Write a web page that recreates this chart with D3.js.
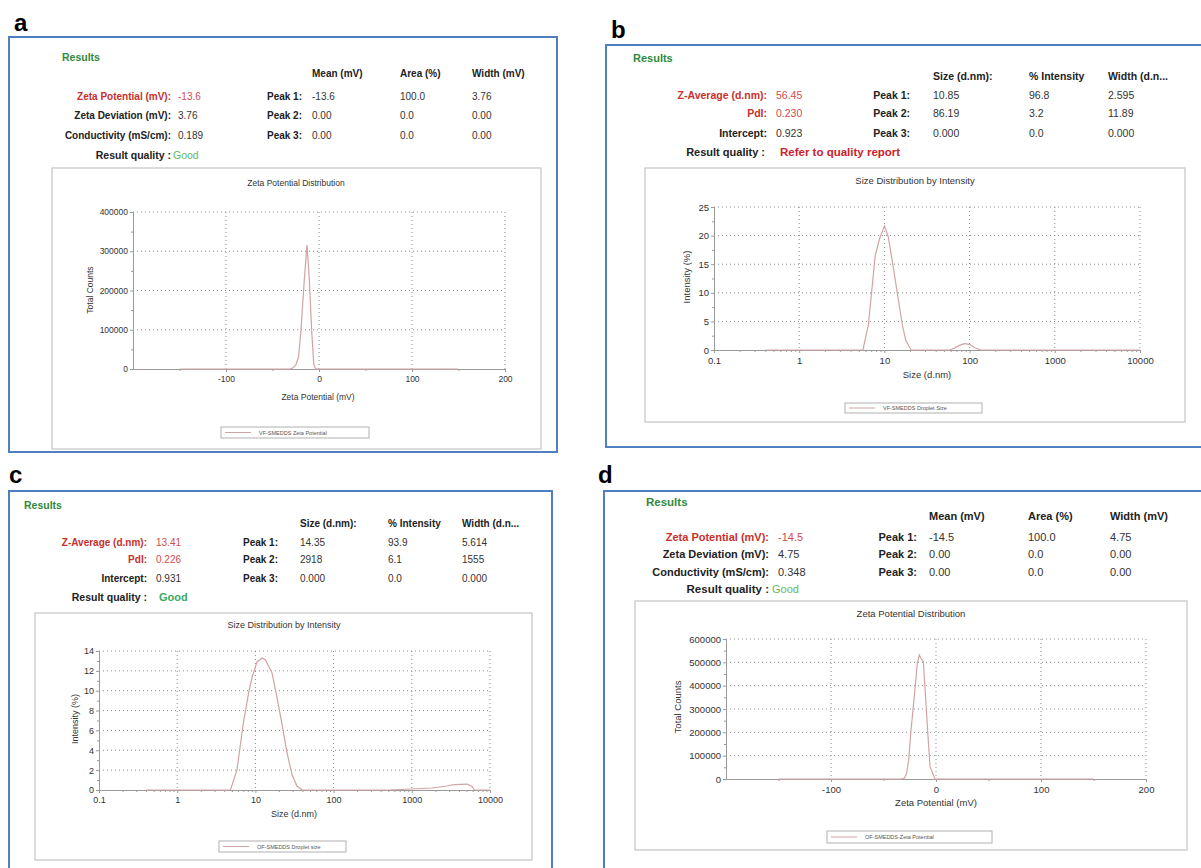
<!DOCTYPE html>
<html>
<head>
<meta charset="utf-8">
<script src="https://cdn.jsdelivr.net/npm/d3@7"></script>
<style>
  body { margin: 0; background: #fff; }
  svg { display: block; font-family: "Liberation Sans", Arial, Helvetica, sans-serif; }
</style>
</head>
<body>
<svg id="fig" width="1201" height="868"></svg>
<script>
// ---------- values ----------

// a: VF-SMEDDS zeta potential distribution
const zetaVF_mv     = [-150, -31, -28, -25, -22, -19.4, -15.8, -12.9, -10.4, -7.9, -5.7, -4.3, -3, 150];
const zetaVF_counts = [0, 0, 3000, 10000, 30000, 99000, 227000, 316000, 227000, 99000, 14500, 3000, 0, 0];

// b: VF-SMEDDS droplet size by intensity
const sizeVF_nm  = [0.4, 5.6, 6.5, 7.8, 8.8, 10.0, 11.1, 12.8, 14.6, 16.2, 17.8, 20.5, 58, 66, 76, 87, 100, 115, 135, 10000];
const sizeVF_pct = [0, 0, 4.5, 16.5, 19.5, 21.7, 19.8, 14.2, 8.7, 4.5, 1.7, 0, 0, 0.3, 0.8, 1.1, 1.0, 0.4, 0, 0];

// c: OF-SMEDDS droplet size by intensity
const sizeOF_nm  = [0.4, 4.8, 5.8, 7.0, 8.2, 9.1, 10.5, 12.2, 13.5, 14.5, 16.3, 18.9, 21.8, 25.3, 29.5, 34, 39.6, 500, 1000, 1800, 2800, 3500, 5100, 5900, 6300, 10000];
const sizeOF_pct = [0, 0, 2, 6.7, 9.8, 11.4, 12.9, 13.3, 13.1, 12.6, 11.8, 9.3, 6.7, 3.8, 1.5, 0.4, 0, 0, 0.1, 0.2, 0.4, 0.55, 0.6, 0.35, 0, 0];

// d: OF-SMEDDS zeta potential distribution
const zetaOF_mv     = [-150, -33, -30, -28, -26, -24, -21.6, -19.5, -17.8, -15.9, -14.5, -12.1, -10, -8, -5.7, -2.5, -1, 150];
const zetaOF_counts = [0, 0, 4000, 25000, 81000, 200000, 310000, 410000, 497000, 531000, 518000, 505000, 357000, 210000, 53000, 17000, 0, 0];

// axis ticks
const zetaTicksX   = [-100, 0, 100, 200];
const zetaMinorX   = [-150, -50, 50, 150];
const sizeTicksX   = [0.1, 1, 10, 100, 1000, 10000];
const countTicksA  = [0, 100000, 200000, 300000, 400000];
const countMinorA  = [50000, 150000, 250000, 350000];
const countTicksD  = [0, 100000, 200000, 300000, 400000, 500000, 600000];
const countMinorD  = [50000, 150000, 250000, 350000, 450000, 550000];
const pctTicksB    = [0, 5, 10, 15, 20, 25];
const pctMinorB    = [2.5, 7.5, 12.5, 17.5, 22.5];
const pctTicksC    = [0, 2, 4, 6, 8, 10, 12, 14];
const pctMinorC    = [1, 3, 5, 7, 9, 11, 13];

// result tables
const zetaHeads = ['Mean (mV)', 'Area (%)', 'Width (mV)'];
const sizeHeads = ['Size (d.nm):', '% Intensity', 'Width (d.n...'];
const peakNames = ['Peak 1:', 'Peak 2:', 'Peak 3:'];
const zetaNames = ['Zeta Potential (mV):', 'Zeta Deviation (mV):', 'Conductivity (mS/cm):'];
const sizeNames = ['Z-Average (d.nm):', 'PdI:', 'Intercept:'];

const summaryA = ['-13.6', '3.76', '0.189'];
const peaksA   = [['-13.6', '100.0', '3.76'], ['0.00', '0.0', '0.00'], ['0.00', '0.0', '0.00']];
const summaryB = ['56.45', '0.230', '0.923'];
const peaksB   = [['10.85', '96.8', '2.595'], ['86.19', '3.2', '11.89'], ['0.000', '0.0', '0.000']];
const summaryC = ['13.41', '0.226', '0.931'];
const peaksC   = [['14.35', '93.9', '5.614'], ['2918', '6.1', '1555'], ['0.000', '0.0', '0.000']];
const summaryD = ['-14.5', '4.75', '0.348'];
const peaksD   = [['-14.5', '100.0', '4.75'], ['0.00', '0.0', '0.00'], ['0.00', '0.0', '0.00']];

const zip = (xs, ys) => xs.map((x, i) => [x, ys[i]]);

const RED = '#c9302c', RED_VAL = '#d24a50', DARK = '#222', GREY = '#333';
const CURVE = '#d2a3a3', AXIS = '#9a9a9a', GRID = '#8c8c8c';

class ReportPanel {
  constructor(_config, _data) {
    this.config = _config;
    this.data = _data;
    this.initVis();
  }

  initVis() {
    let vis = this;
    const c = vis.config;
    vis.g = d3.select('#fig').append('g');

    // panel letter
    vis.g.append('text')
        .attr('x', c.letterXY[0]).attr('y', c.letterXY[1])
        .style('font-size', '24px').style('font-weight', 'bold')
        .text(c.letter);

    // blue outer frame
    vis.g.append('rect')
        .attr('x', c.frame[0]).attr('y', c.frame[1])
        .attr('width', c.frame[2]).attr('height', c.frame[3])
        .attr('fill', 'none').attr('stroke', '#4f7fc0').attr('stroke-width', 2);

    vis.drawTable();
    vis.drawChart();
  }

  drawTable() {
    let vis = this;
    const c = vis.config, d = vis.data;
    const t = vis.g.append('g').style('font-size', c.fontTable + 'px');

    t.append('text')
        .attr('x', c.resultsXY[0]).attr('y', c.resultsXY[1])
        .style('font-size', (c.fontTable + 0.5) + 'px').style('font-weight', 'bold')
        .attr('fill', '#2f8a3c')
        .text('Results');

    t.selectAll('.head').data(d.heads).join('text')
        .attr('class', 'head')
        .attr('x', (h, i) => c.cols[i]).attr('y', c.headY)
        .style('font-weight', 'bold').attr('fill', DARK)
        .text(h => h);

    d.names.forEach((name, i) => {
      const red = i < c.redRows;
      t.append('text')
          .attr('x', c.labelRight).attr('y', c.rowY[i])
          .attr('text-anchor', 'end').style('font-weight', 'bold')
          .attr('fill', red ? RED : DARK)
          .text(name);
      t.append('text')
          .attr('x', c.valueX).attr('y', c.rowY[i])
          .attr('fill', red ? RED_VAL : GREY)
          .text(d.summary[i]);
      t.append('text')
          .attr('x', c.peakRight).attr('y', c.rowY[i])
          .attr('text-anchor', 'end').style('font-weight', 'bold')
          .attr('fill', DARK)
          .text(peakNames[i]);
      t.selectAll('.p' + i).data(d.peaks[i]).join('text')
          .attr('class', 'p' + i)
          .attr('x', (v, j) => c.cols[j]).attr('y', c.rowY[i])
          .attr('fill', GREY)
          .text(v => v);
    });

    t.append('text')
        .attr('x', c.qualRight).attr('y', c.qualY)
        .attr('text-anchor', 'end')
        .style('font-size', (c.fontTable + 0.5) + 'px').style('font-weight', 'bold')
        .attr('fill', DARK)
        .text('Result quality :');
    t.append('text')
        .attr('x', c.qualX).attr('y', c.qualY)
        .style('font-size', c.qualSize + 'px')
        .style('font-weight', c.qualBold ? 'bold' : 'normal')
        .attr('fill', c.qualColor)
        .text(d.quality);
  }

  drawChart() {
    let vis = this;
    const c = vis.config, d = vis.data;
    const [x0, y0, x1, y1] = c.plot;
    const fs = c.fontChart + 'px';

    // grey chart box
    vis.g.append('rect')
        .attr('x', c.box[0]).attr('y', c.box[1])
        .attr('width', c.box[2]).attr('height', c.box[3])
        .attr('fill', 'none').attr('stroke', '#c4c4c4').attr('stroke-width', 1.2);

    vis.g.append('text')
        .attr('x', c.titleXY[0]).attr('y', c.titleXY[1])
        .attr('text-anchor', 'middle').style('font-size', fs).attr('fill', GREY)
        .text(d.title);

    const x = (d.log ? d3.scaleLog() : d3.scaleLinear())
        .domain(d.xDomain).range([x0, x1]);
    const y = d3.scaleLinear().domain(d.yDomain).range([y1, y0]);

    // dotted grid
    const grid = vis.g.append('g')
        .attr('stroke', GRID).attr('stroke-width', 1).attr('stroke-dasharray', '1,3');
    grid.selectAll('.gx').data(d.xTicks.filter(v => x(v) > x0 + 1)).join('line')
        .attr('x1', v => x(v)).attr('x2', v => x(v))
        .attr('y1', y0).attr('y2', y1);
    grid.selectAll('.gy').data(d.yTicks.filter(v => v > 0)).join('line')
        .attr('x1', x0).attr('x2', x1)
        .attr('y1', v => y(v)).attr('y2', v => y(v));

    const minorX = d.log
        ? x.ticks().filter(v => !d.xTicks.includes(v))
        : d.xMinor;

    const styleAxis = sel => {
      sel.select('.domain').attr('stroke', AXIS);
      sel.selectAll('.tick line').attr('stroke', AXIS);
      sel.selectAll('.tick text').style('font-size', fs).attr('fill', GREY)
          .style('font-family', '"Liberation Sans", Arial, sans-serif');
    };

    vis.g.append('g')
        .attr('transform', `translate(0,${y1})`)
        .call(d3.axisBottom(x).tickValues(minorX).tickSize(2).tickSizeOuter(0).tickFormat(''))
        .call(styleAxis);
    vis.g.append('g')
        .attr('transform', `translate(0,${y1})`)
        .call(d3.axisBottom(x).tickValues(d.xTicks).tickSize(3).tickSizeOuter(0)
              .tickPadding(4).tickFormat(v => String(v)))
        .call(styleAxis);

    vis.g.append('g')
        .attr('transform', `translate(${x0},0)`)
        .call(d3.axisLeft(y).tickValues(d.yMinor).tickSize(2).tickSizeOuter(0).tickFormat(''))
        .call(styleAxis);
    vis.g.append('g')
        .attr('transform', `translate(${x0},0)`)
        .call(d3.axisLeft(y).tickValues(d.yTicks).tickSize(3).tickSizeOuter(0)
              .tickPadding(2).tickFormat(v => String(v)))
        .call(styleAxis);

    // distribution curve
    vis.g.append('path')
        .datum(d.points)
        .attr('fill', 'none').attr('stroke', CURVE).attr('stroke-width', 1.2)
        .attr('d', d3.line().x(p => x(p[0])).y(p => y(p[1])));

    // axis titles
    vis.g.append('text')
        .attr('x', c.xLabelXY[0]).attr('y', c.xLabelXY[1])
        .attr('text-anchor', 'middle').style('font-size', fs).attr('fill', GREY)
        .text(d.xLabel);
    vis.g.append('text')
        .attr('transform', `translate(${c.yLabelXY[0]},${c.yLabelXY[1]}) rotate(-90)`)
        .attr('text-anchor', 'middle').style('font-size', fs).attr('fill', GREY)
        .text(d.yLabel);

    // legend
    const [lx, ly, lw, lh] = c.legend;
    vis.g.append('rect')
        .attr('x', lx).attr('y', ly).attr('width', lw).attr('height', lh)
        .attr('fill', '#fff').attr('stroke', '#b0b0b0').attr('stroke-width', 1);
    vis.g.append('line')
        .attr('x1', lx + 4).attr('x2', lx + 30)
        .attr('y1', ly + lh / 2).attr('y2', ly + lh / 2)
        .attr('stroke', CURVE).attr('stroke-width', 1);
    vis.g.append('text')
        .attr('x', lx + 38).attr('y', ly + lh / 2 + 2)
        .style('font-size', '5.5px').attr('fill', '#555')
        .text(d.legend);
  }
}

const zetaTitle = 'Zeta Potential Distribution', sizeTitle = 'Size Distribution by Intensity';

new ReportPanel({
  letter: 'a', letterXY: [14, 31], frame: [9, 37, 548, 415],
  fontTable: 10, fontChart: 8.5, resultsXY: [62, 61],
  headY: 77, rowY: [100, 119, 139], qualY: 159,
  labelRight: 171, valueX: 178, peakRight: 302, cols: [312, 400, 472],
  qualRight: 171, qualX: 173, qualSize: 10.5, qualBold: false, qualColor: '#62b862', redRows: 1,
  box: [52, 168, 489, 281], titleXY: [296, 186], plot: [133, 212, 505, 369],
  xLabelXY: [318, 400], yLabelXY: [93, 290], legend: [221, 427, 148, 11]
}, {
  heads: zetaHeads, names: zetaNames, summary: summaryA, peaks: peaksA, quality: 'Good',
  title: zetaTitle, log: false, xDomain: [-200, 200], xTicks: zetaTicksX, xMinor: zetaMinorX,
  yDomain: [0, 400000], yTicks: countTicksA, yMinor: countMinorA,
  points: zip(zetaVF_mv, zetaVF_counts),
  xLabel: 'Zeta Potential (mV)', yLabel: 'Total Counts', legend: 'VF-SMEDDS Zeta Potential'
});

new ReportPanel({
  letter: 'b', letterXY: [611, 38], frame: [606, 45, 610, 402],
  fontTable: 10.5, fontChart: 9.5, resultsXY: [633, 62],
  headY: 80, rowY: [99, 117, 136.5], qualY: 156,
  labelRight: 767, valueX: 776, peakRight: 910, cols: [933, 1029, 1108],
  qualRight: 765, qualX: 780, qualSize: 11.5, qualBold: true, qualColor: '#d0202a', redRows: 2,
  box: [645, 168, 540, 254], titleXY: [915, 184], plot: [714, 207, 1140, 350],
  xLabelXY: [927, 378], yLabelXY: [690, 277], legend: [845, 403, 137, 10]
}, {
  heads: sizeHeads, names: sizeNames, summary: summaryB, peaks: peaksB, quality: 'Refer to quality report',
  title: sizeTitle, log: true, xDomain: [0.1, 10000], xTicks: sizeTicksX,
  yDomain: [0, 25], yTicks: pctTicksB, yMinor: pctMinorB,
  points: zip(sizeVF_nm, sizeVF_pct),
  xLabel: 'Size (d.nm)', yLabel: 'Intensity (%)', legend: 'VF-SMEDDS Droplet Size'
});

new ReportPanel({
  letter: 'c', letterXY: [9, 483], frame: [9, 491, 543, 400],
  fontTable: 10, fontChart: 9, resultsXY: [24, 509],
  headY: 526.5, rowY: [545.5, 563, 582], qualY: 601,
  labelRight: 147, valueX: 156, peakRight: 278, cols: [300, 388, 462],
  qualRight: 147, qualX: 159, qualSize: 11, qualBold: true, qualColor: '#3daa62', redRows: 2,
  box: [35, 613, 497, 247], titleXY: [284, 628], plot: [99, 651, 490, 790],
  xLabelXY: [294, 817], yLabelXY: [78, 719], legend: [219, 841, 127, 11]
}, {
  heads: sizeHeads, names: sizeNames, summary: summaryC, peaks: peaksC, quality: 'Good',
  title: sizeTitle, log: true, xDomain: [0.1, 10000], xTicks: sizeTicksX,
  yDomain: [0, 14], yTicks: pctTicksC, yMinor: pctMinorC,
  points: zip(sizeOF_nm, sizeOF_pct),
  xLabel: 'Size (d.nm)', yLabel: 'Intensity (%)', legend: 'OF-SMEDDS Droplet size'
});

new ReportPanel({
  letter: 'd', letterXY: [598, 483], frame: [604, 491, 610, 400],
  fontTable: 11, fontChart: 9.5, resultsXY: [646, 506],
  headY: 520, rowY: [540.5, 558, 575.5], qualY: 593,
  labelRight: 769, valueX: 778, peakRight: 917, cols: [929, 1028, 1110],
  qualRight: 769, qualX: 772, qualSize: 11, qualBold: false, qualColor: '#62b862', redRows: 1,
  box: [635, 601, 552, 249], titleXY: [911, 617], plot: [726, 639, 1146, 779],
  xLabelXY: [936, 806], yLabelXY: [681, 707], legend: [827, 831, 165, 12]
}, {
  heads: zetaHeads, names: zetaNames, summary: summaryD, peaks: peaksD, quality: 'Good',
  title: zetaTitle, log: false, xDomain: [-200, 200], xTicks: zetaTicksX, xMinor: zetaMinorX,
  yDomain: [0, 600000], yTicks: countTicksD, yMinor: countMinorD,
  points: zip(zetaOF_mv, zetaOF_counts),
  xLabel: 'Zeta Potential (mV)', yLabel: 'Total Counts', legend: 'OF-SMEDDS-Zeta Potential'
});
</script>
</body>
</html>
